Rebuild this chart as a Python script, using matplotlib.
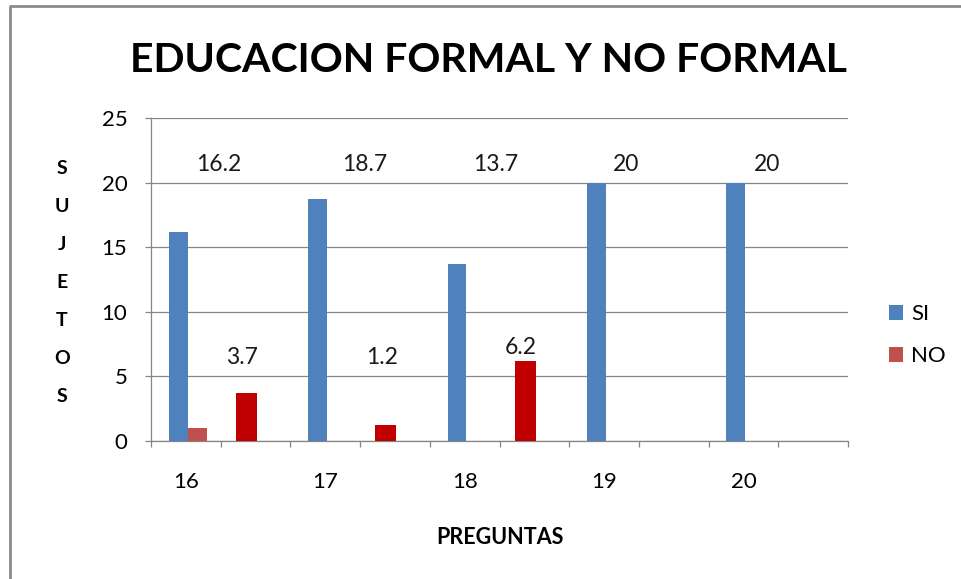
import matplotlib
matplotlib.use("Agg")
import matplotlib.pyplot as plt
from matplotlib.patches import Patch
from matplotlib.lines import Line2D
import numpy as np

# ---- data ----
slot_labels = ['16', '', '17', '', '18', '', '19', '', '20', '']
si_values = [16.2, None, 18.7, None, 13.7, None, 20, None, 20, None]
no_values = [1.0, 3.7, None, 1.2, None, 6.2, None, None, None, None]
si_label_text = ['16.2', '18.7', '13.7', '20', '20']
no_label_text = ['3.7', '1.2', '6.2']
series_names = ['SI', 'NO']
y_ticks = [0, 5, 10, 15, 20, 25]

# ---- styles ----
C_SI = '#4F81BD'
C_NO = '#C0504D'
C_NO_DARK = '#C00000'
GRID = '#868686'
FONT = ['Lato', 'DejaVu Sans']

W, H = 961, 579
fig = plt.figure(figsize=(W / 100, H / 100), dpi=100)
ax = fig.add_axes([151 / W, 1 - 441 / H, (848 - 151) / W, (441 - 118) / H])

bw = 0.27
sh = 0.025
x = np.arange(len(slot_labels))
si_idx = []
for i, v in enumerate(si_values):
    if v is not None:
        ax.bar(i - bw + sh, v, width=bw, align='edge', color=C_SI, zorder=3)
        si_idx.append(i)
no_dark_idx = []
for i, v in enumerate(no_values):
    if v is None:
        continue
    if si_values[i] is not None:
        ax.bar(i + sh, v, width=bw + 0.01, align='edge', color=C_NO, zorder=3)
    else:
        ax.bar(i - 0.28, v, width=0.30, align='edge', color=C_NO_DARK, zorder=3)
        no_dark_idx.append(i)

# data labels (manually placed in the original)
si_dx = [0.47, 0.57, 0.45, 0.31, 0.34]
for k, i in enumerate(si_idx):
    ax.text(i + si_dx[k], 21.4, si_label_text[k], ha='center', va='center',
            fontsize=16.5, family=FONT, color='#1a1a1a', zorder=4)
for k, i in enumerate(no_dark_idx):
    v = no_values[i]
    ax.text(i - 0.19, max(v, 5.5) + 1.0, no_label_text[k], ha='center', va='center',
            fontsize=16.5, family=FONT, color='#1a1a1a', zorder=4)

ax.set_xlim(-0.5, len(slot_labels) - 0.5)
ax.set_ylim(0, 25)
ax.set_yticks(y_ticks)
ax.set_yticklabels([str(t) for t in y_ticks], family=FONT, fontsize=16)
ax.yaxis.grid(True, color=GRID, linewidth=0.9, zorder=0)
ax.set_axisbelow(True)

ax.set_xticks(x)
ax.set_xticklabels(slot_labels, family=FONT, fontsize=16)
ax.set_xticks(np.arange(-0.5, len(slot_labels)), minor=True)
ax.tick_params(axis='x', which='major', length=0, pad=22)
ax.tick_params(axis='x', which='minor', length=4, color=GRID, direction='out', width=0.9)
ax.tick_params(axis='y', length=4, color=GRID, width=0.9, pad=13)

for s in ['top', 'right']:
    ax.spines[s].set_visible(False)
for s in ['left', 'bottom']:
    ax.spines[s].set_color(GRID)
    ax.spines[s].set_linewidth(0.9)

# title and axis titles
fig.text(489 / W, 1 - 61 / H, 'EDUCACION FORMAL Y NO FORMAL', ha='center', va='center',
         fontsize=29.5, fontweight='bold', family=FONT)
fig.text(500 / W, 1 - 537 / H, 'PREGUNTAS', ha='center', va='center',
         fontsize=15.5, fontweight='bold', family=FONT)
fig.text(62 / W, 1 - 283 / H, '\n'.join('SUJETOS'), ha='center', va='center',
         fontsize=14, fontweight='bold', family=FONT, linespacing=2.5)

# legend
handles = [Patch(facecolor=C_SI), Patch(facecolor=C_NO)]
fig.legend(handles, series_names, loc='center left', bbox_to_anchor=(889 / W, 1 - 335 / H),
           frameon=False, borderpad=0, borderaxespad=0, handlelength=0.65, handleheight=0.65,
           handletextpad=0.35, labelspacing=1.0, prop={'family': FONT, 'size': 16})

# outer chart border (top and left visible)
fig.add_artist(Line2D([10 / W, 10 / W, 1.0], [0.0, 1 - 6 / H, 1 - 6 / H],
                      transform=fig.transFigure, color='#8c8c8c', linewidth=2))

fig.savefig('out.png', dpi=100)
